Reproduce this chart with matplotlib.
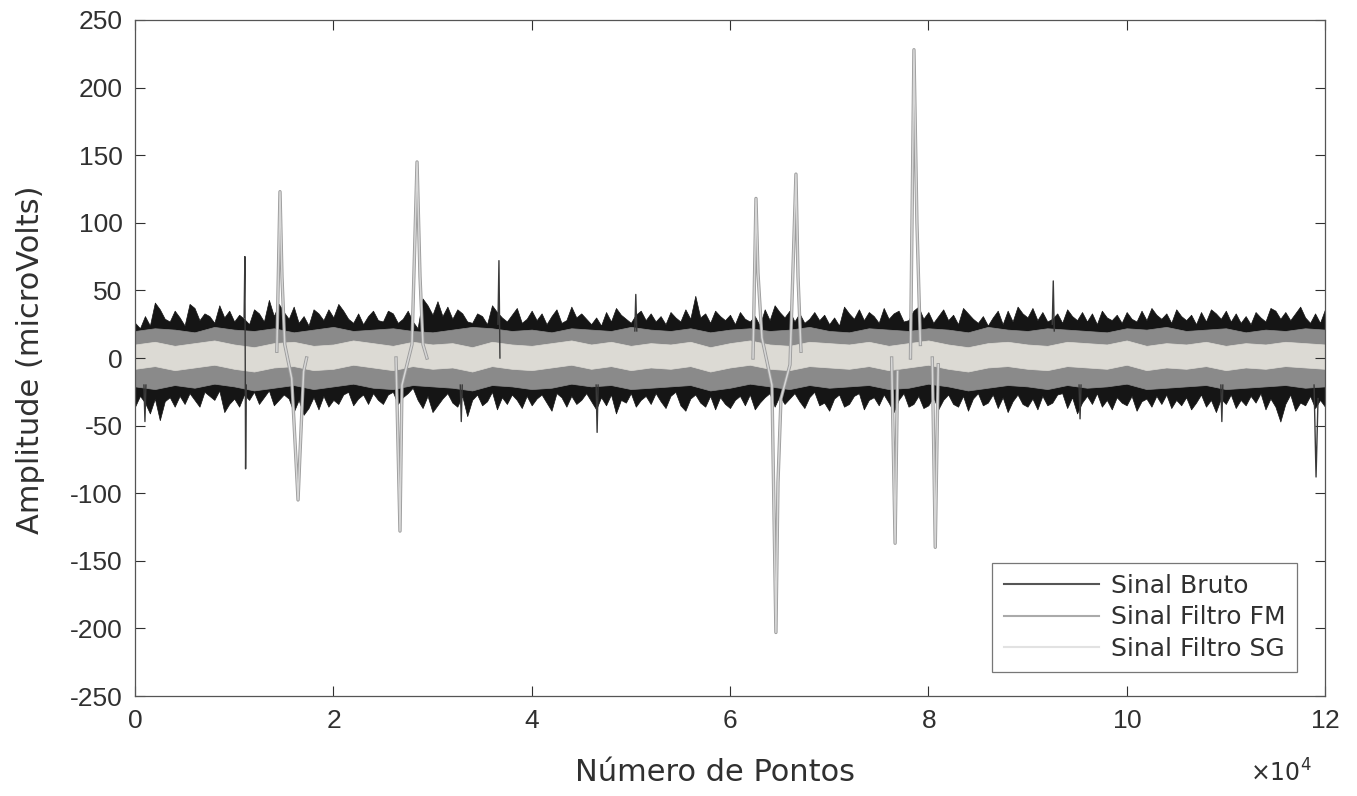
import numpy as np
import matplotlib
matplotlib.use("Agg")
import matplotlib.pyplot as plt
from matplotlib.lines import Line2D

plt.rcParams["font.family"] = ["Liberation Sans", "DejaVu Sans"]
plt.rcParams["axes.unicode_minus"] = False

# envelope of the raw signal, one value every 500 points
raw_hi = [26, 22, 31, 24, 41, 36, 29, 27, 35, 30, 24, 40, 37, 28, 33, 31, 26, 39, 30, 35,
          27, 32, 29, 25, 36, 33, 27, 43, 31, 40, 34, 29, 38, 26, 31, 24, 36, 33, 28, 36,
          30, 40, 35, 29, 26, 33, 25, 31, 35, 28, 27, 35, 33, 26, 29, 35, 27, 22, 44, 39,
          32, 42, 31, 38, 29, 36, 33, 27, 26, 33, 31, 25, 39, 34, 30, 27, 32, 37, 26, 29,
          35, 28, 33, 25, 31, 36, 26, 28, 38, 30, 33, 29, 25, 30, 24, 34, 27, 37, 32, 29,
          26, 32, 35, 28, 33, 27, 31, 25, 34, 30, 27, 36, 29, 46, 30, 33, 26, 35, 31, 28,
          32, 25, 34, 29, 27, 31, 24, 36, 28, 39, 34, 30, 35, 27, 33, 26, 29, 34, 28, 32,
          25, 30, 24, 38, 33, 29, 36, 28, 34, 31, 26, 37, 29, 33, 35, 27, 28, 35, 38, 29,
          34, 26, 31, 36, 28, 32, 25, 37, 33, 29, 26, 31, 24, 30, 35, 25, 35, 27, 38, 33,
          30, 37, 28, 34, 27, 29, 33, 26, 36, 31, 28, 34, 27, 33, 25, 35, 30, 28, 32, 26,
          34, 29, 27, 35, 28, 37, 32, 29, 33, 26, 36, 31, 28, 32, 25, 34, 27, 36, 33, 29,
          35, 27, 33, 26, 31, 25, 34, 30, 27, 37, 35, 29, 34, 28, 33, 38, 30, 26, 33, 26,
          36]
raw_lo = [-36, -28, -33, -41, -30, -46, -32, -29, -36, -28, -34, -26, -31, -36, -25, -28,
          -31, -24, -40, -34, -30, -36, -27, -31, -25, -34, -29, -24, -35, -31, -27, -30,
          -40, -31, -42, -37, -29, -38, -28, -36, -31, -34, -27, -25, -35, -30, -27, -34,
          -26, -31, -34, -27, -25, -34, -29, -26, -22, -31, -37, -28, -40, -35, -30, -26,
          -33, -36, -28, -43, -31, -27, -35, -32, -25, -38, -29, -34, -27, -31, -37, -28,
          -35, -30, -27, -33, -39, -26, -29, -36, -28, -34, -31, -26, -32, -38, -29, -35,
          -27, -41, -31, -33, -26, -36, -31, -28, -34, -26, -32, -37, -28, -25, -35, -39,
          -30, -27, -33, -36, -28, -38, -29, -34, -37, -31, -28, -35, -27, -38, -33, -29,
          -26, -36, -28, -34, -30, -26, -32, -37, -29, -25, -35, -33, -39, -30, -27, -36,
          -34, -28, -26, -38, -31, -29, -35, -27, -33, -40, -31, -26, -36, -34, -28, -37,
          -35, -29, -38, -31, -27, -34, -36, -28, -39, -30, -26, -35, -33, -27, -37, -29,
          -40, -32, -27, -34, -36, -30, -38, -28, -35, -33, -27, -26, -37, -29, -41, -33,
          -28, -34, -26, -36, -31, -38, -29, -33, -35, -28, -39, -32, -30, -36, -28, -34,
          -27, -37, -31, -35, -29, -38, -33, -27, -36, -31, -40, -30, -34, -27, -37, -31,
          -35, -28, -33, -26, -38, -30, -36, -47, -34, -27, -39, -33, -35, -28, -37, -31,
          -36]

# envelopes of the filtered signals, one value every 2000 points
fm_hi = [20, 22, 21, 19, 23, 21, 20, 22, 19, 21, 23, 20, 21, 22, 20, 19, 21, 23, 22, 20, 21,
         19, 22, 21, 20, 23, 21, 20, 22, 19, 21, 22, 20, 21, 23, 20, 19, 22, 21, 20, 22,
         21, 19, 23, 21, 20, 22, 21, 20, 19, 22, 21, 23, 20, 21, 22, 19, 21, 20, 22, 21]
fm_lo = [-21, -23, -20, -22, -19, -21, -24, -22, -20, -23, -21, -19, -22, -23, -20, -21, -22,
         -24, -20, -21, -23, -22, -19, -21, -20, -23, -22, -21, -20, -24, -22, -19, -21,
         -23, -20, -22, -21, -20, -23, -22, -19, -21, -24, -22, -20, -21, -23, -20, -22,
         -21, -19, -23, -22, -21, -20, -23, -22, -21, -20, -22, -21]
sg_hi = [10, 12, 9, 11, 13, 10, 8, 11, 12, 9, 10, 13, 11, 9, 12, 10, 11, 8, 12, 10, 9, 11,
         13, 10, 12, 9, 11, 10, 12, 8, 11, 13, 10, 9, 12, 11, 10, 12, 9, 11, 13, 10, 8, 11,
         12, 10, 9, 12, 11, 10, 13, 9, 11, 10, 12, 9, 11, 10, 12, 11, 10]
sg_lo = [-8, -6, -9, -7, -5, -8, -10, -7, -6, -9, -8, -5, -7, -9, -6, -8, -7, -10, -6, -8,
         -9, -7, -5, -8, -6, -9, -7, -8, -6, -10, -7, -5, -8, -9, -6, -7, -8, -6, -9, -7,
         -5, -8, -10, -7, -6, -8, -9, -6, -7, -8, -5, -9, -7, -8, -6, -9, -7, -8, -6, -7, -8]

# large spikes, present in all three signals
big_spike_x = [
    [14300, 14620, 14820, 15100, 15800, 16440, 16640, 17000, 17300],
    [26320, 26720, 26920, 27930, 28440, 28740, 29040, 29440],
    [62320, 62620, 62820, 63220, 64230, 64630, 64840, 65140, 66050, 66650, 66860, 67160],
    [76300, 76650, 76900],
    [78200, 78550, 78850, 79200],
    [80400, 80700, 81000],
]
big_spike_y = [
    [5, 123, 60, 10, -15, -105, -70, -10, 0],
    [0, -128, -20, 10, 145, 60, 10, 0],
    [0, 118, 63, 15, -20, -203, -92, -30, -5, 136, 60, 5],
    [0, -137, -10],
    [0, 228, 100, 10],
    [0, -140, -5],
]

# short spikes seen only in the raw signal
thin_spike_x = [[900, 1000, 1100], [11000, 11080, 11150, 11220], [32800, 32900, 33000],
                [36600, 36700, 36800], [46500, 46600, 46700], [50400, 50500, 50600],
                [92500, 92600, 92700], [95200, 95300, 95400], [109500, 109600, 109700],
                [118900, 119100, 119300]]
thin_spike_y = [[-20, -47, -20], [30, 75, -82, -20], [-20, -47, -20],
                [25, 72, 0], [-20, -55, -20], [20, 47, 20],
                [25, 57, 20], [-20, -45, -20], [-20, -47, -20],
                [-20, -88, -30]]

raw_color = "#151515"
fm_color = "#8a8a8a"
sg_color = "#dcdad4"
text_color = "#303030"

fig = plt.figure(figsize=(13.57, 7.96), dpi=100)
ax = fig.add_axes([0.0995, 0.1256, 0.8769, 0.8493])

x_raw = np.linspace(0, 120000, len(raw_hi))
x_fm = np.linspace(0, 120000, len(fm_hi))
x_sg = np.linspace(0, 120000, len(sg_hi))

# raw signal
ax.fill_between(x_raw, raw_lo, raw_hi, color=raw_color, lw=0.5)
for xs, ys in zip(thin_spike_x, thin_spike_y):
    ax.plot(xs, ys, color="#3a3a3a", lw=1.0)
for xs, ys in zip(big_spike_x, big_spike_y):
    ax.plot(xs, ys, color=raw_color, lw=1.0)

# median filter
ax.fill_between(x_fm, fm_lo, fm_hi, color=fm_color, lw=0.5)
for xs, ys in zip(big_spike_x, big_spike_y):
    ax.plot(xs, ys, color="#9c9c9c", lw=2.4)

# Savitzky-Golay filter
ax.fill_between(x_sg, sg_lo, sg_hi, color=sg_color, lw=0.5)
for xs, ys in zip(big_spike_x, big_spike_y):
    ax.plot(xs, ys, color="#d6d6d6", lw=1.1)

ax.set_xlim(0, 120000)
ax.set_ylim(-250, 250)
ax.set_yticks(np.arange(-250, 251, 50))
ax.set_xticks(np.arange(0, 120001, 20000))
ax.ticklabel_format(axis="x", style="sci", scilimits=(4, 4), useMathText=True)
ax.xaxis.get_offset_text().set_visible(False)
fig.text(0.921, 0.012, r"$\times10^{4}$", fontsize=17, color=text_color,
         ha="left", va="bottom")

ax.tick_params(direction="in", length=7, width=0.8, top=True, right=True,
               labelsize=19, colors=text_color, pad=9)
for s in ax.spines.values():
    s.set_color("#555555")
    s.set_linewidth(0.9)

ax.set_xlabel("Número de Pontos", fontsize=22, color=text_color, family="DejaVu Sans")
ax.xaxis.set_label_coords(0.4875, -0.092)
ax.set_ylabel("Amplitude (microVolts)", fontsize=22, color=text_color, family="DejaVu Sans")
ax.yaxis.set_label_coords(-0.076, 0.497)

handles = [Line2D([], [], color="#555555", lw=1.5),
           Line2D([], [], color="#aaaaaa", lw=1.5),
           Line2D([], [], color="#e2e2e2", lw=1.5)]
leg = ax.legend(handles, ["Sinal Bruto", "Sinal Filtro FM", "Sinal Filtro SG"],
                loc="lower right", bbox_to_anchor=(0.9765, 0.0355), borderaxespad=0,
                prop={"family": "DejaVu Sans", "size": 18}, fancybox=False,
                handlelength=3.8, borderpad=0.45, labelspacing=0.3, handletextpad=0.5)
for t in leg.get_texts():
    t.set_color(text_color)
leg.get_frame().set_edgecolor("#555555")
leg.get_frame().set_linewidth(0.9)

fig.savefig("out.png", dpi=100)
